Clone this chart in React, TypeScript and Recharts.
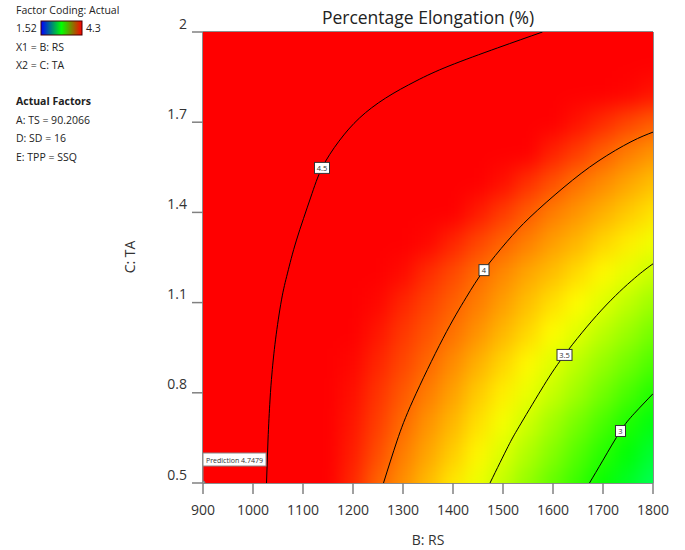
import React from "react";
import { ComposedChart, Scatter, XAxis, YAxis, ReferenceArea } from "recharts";

const W = 685;
const H = 550;
const MARGIN = { top: 32, right: 32, bottom: 0, left: 123 };
const Y_AXIS_W = 80;
const X_AXIS_H = 67;
const PLOT_W = W - MARGIN.left - Y_AXIS_W - MARGIN.right;
const PLOT_H = H - MARGIN.top - MARGIN.bottom - X_AXIS_H;
const FONT = "'Open Sans', 'Noto Sans', sans-serif";

// B: RS grid columns and C: TA grid rows of the response surface
const rsGrid = [900, 950, 1000, 1050, 1100, 1150, 1200, 1250, 1300, 1350, 1400, 1450, 1500, 1550, 1600, 1650, 1700, 1750, 1800];
const taGrid = [0.5, 0.6, 0.7, 0.8, 0.9, 1.0, 1.1, 1.2, 1.3, 1.4, 1.5, 1.6, 1.7, 1.8, 1.9, 2.0];

// Percentage elongation, one row per TA level (bottom to top)
const elongation: number[][] = [
  [4.7479, 4.64, 4.54, 4.47, 4.39, 4.32, 4.19, 4.03, 3.91, 3.79, 3.67, 3.56, 3.44, 3.31, 3.18, 3.06, 2.93, 2.81, 2.68],
  [4.76, 4.65, 4.54, 4.47, 4.40, 4.33, 4.22, 4.09, 3.96, 3.85, 3.74, 3.63, 3.51, 3.39, 3.27, 3.14, 3.02, 2.90, 2.77],
  [4.76, 4.66, 4.55, 4.47, 4.40, 4.33, 4.24, 4.13, 4.01, 3.90, 3.80, 3.69, 3.58, 3.47, 3.35, 3.23, 3.11, 2.99, 2.87],
  [4.77, 4.67, 4.56, 4.48, 4.41, 4.34, 4.26, 4.16, 4.06, 3.96, 3.86, 3.75, 3.65, 3.55, 3.45, 3.34, 3.22, 3.11, 3.00],
  [4.78, 4.68, 4.57, 4.48, 4.42, 4.35, 4.28, 4.20, 4.11, 4.02, 3.92, 3.82, 3.72, 3.62, 3.52, 3.42, 3.32, 3.22, 3.12],
  [4.79, 4.69, 4.59, 4.50, 4.43, 4.37, 4.31, 4.24, 4.15, 4.07, 3.99, 3.90, 3.80, 3.71, 3.61, 3.52, 3.42, 3.33, 3.23],
  [4.80, 4.70, 4.60, 4.51, 4.45, 4.40, 4.34, 4.28, 4.20, 4.12, 4.04, 3.96, 3.87, 3.78, 3.69, 3.61, 3.52, 3.43, 3.34],
  [4.81, 4.72, 4.63, 4.53, 4.47, 4.42, 4.38, 4.33, 4.27, 4.18, 4.10, 4.01, 3.93, 3.85, 3.78, 3.70, 3.62, 3.54, 3.46],
  [4.82, 4.73, 4.64, 4.56, 4.49, 4.45, 4.41, 4.37, 4.33, 4.28, 4.20, 4.11, 4.03, 3.95, 3.87, 3.80, 3.72, 3.65, 3.57],
  [4.83, 4.74, 4.66, 4.58, 4.51, 4.47, 4.44, 4.41, 4.37, 4.34, 4.31, 4.23, 4.14, 4.05, 3.96, 3.89, 3.82, 3.75, 3.68],
  [4.84, 4.75, 4.67, 4.60, 4.53, 4.49, 4.46, 4.43, 4.40, 4.37, 4.35, 4.32, 4.26, 4.17, 4.08, 3.99, 3.92, 3.85, 3.78],
  [4.85, 4.77, 4.69, 4.62, 4.56, 4.51, 4.48, 4.46, 4.43, 4.40, 4.38, 4.35, 4.33, 4.30, 4.21, 4.13, 4.04, 3.96, 3.90],
  [4.86, 4.78, 4.71, 4.64, 4.58, 4.53, 4.50, 4.48, 4.45, 4.43, 4.40, 4.38, 4.35, 4.33, 4.30, 4.25, 4.18, 4.11, 4.05],
  [4.87, 4.80, 4.73, 4.66, 4.61, 4.57, 4.54, 4.52, 4.49, 4.47, 4.45, 4.43, 4.41, 4.38, 4.36, 4.34, 4.32, 4.29, 4.25],
  [4.88, 4.81, 4.75, 4.69, 4.64, 4.60, 4.57, 4.55, 4.53, 4.52, 4.51, 4.49, 4.47, 4.45, 4.43, 4.41, 4.39, 4.37, 4.35],
  [4.89, 4.83, 4.77, 4.72, 4.68, 4.64, 4.61, 4.59, 4.57, 4.55, 4.54, 4.53, 4.52, 4.51, 4.49, 4.47, 4.45, 4.43, 4.41],
];

// contour lines as [RS, TA] pairs
const contour45 = [[1027, 0.5], [1030, 0.643], [1034, 0.776], [1038, 0.866], [1045, 0.976], [1057, 1.109], [1069, 1.198], [1087, 1.308], [1115, 1.448], [1138, 1.548], [1172, 1.637], [1213, 1.714], [1265, 1.78], [1326, 1.837], [1392, 1.887], [1489, 1.947], [1579, 2.0]];
const contour40 = [[1261, 0.5], [1288, 0.64], [1320, 0.775], [1380, 0.981], [1426, 1.116], [1462, 1.208], [1508, 1.303], [1554, 1.384], [1622, 1.484], [1690, 1.57], [1756, 1.635], [1800, 1.667]];
const contour35 = [[1474, 0.5], [1510, 0.621], [1532, 0.687], [1576, 0.809], [1623, 0.926], [1697, 1.075], [1763, 1.181], [1800, 1.229]];
const contour30 = [[1673, 0.5], [1700, 0.576], [1735, 0.673], [1763, 0.732], [1800, 0.797]];

const contourLabels = [
  { rs: 1138, ta: 1.548, text: "4.5" },
  { rs: 1462, ta: 1.208, text: "4" },
  { rs: 1623, ta: 0.926, text: "3.5" },
  { rs: 1735, ta: 0.673, text: "3" },
];

const prediction = [{ rs: 900, ta: 0.5, value: 4.7479 }];

const xTicks = [900, 1000, 1100, 1200, 1300, 1400, 1500, 1600, 1700, 1800];
const yTicks = [0.5, 0.8, 1.1, 1.4, 1.7, 2];

const colorMin = 1.52;
const colorMax = 4.3;

// blue -> cyan -> green -> yellow -> red
const stops = [
  [0, 0, 255],
  [0, 255, 255],
  [0, 255, 0],
  [255, 255, 0],
  [255, 0, 0],
];

function colorFor(v: number) {
  const t = Math.max(0, Math.min(1, (v - colorMin) / (colorMax - colorMin))) * (stops.length - 1);
  const i = Math.min(stops.length - 2, Math.floor(t));
  const f = t - i;
  const a = stops[i];
  const b = stops[i + 1];
  const c = a.map((ch, k) => Math.round(ch + (b[k] - ch) * f));
  return `rgb(${c[0]},${c[1]},${c[2]})`;
}

const cells = taGrid.flatMap((ta, j) =>
  rsGrid.map((rs, i) => ({ rs, ta, i, j, v: elongation[j][i] }))
);

const toPoints = (arr: number[][]) => arr.map(([rs, ta]) => ({ rs, ta }));

const CELL_W = PLOT_W / (rsGrid.length - 1);
const CELL_H = PLOT_H / (taGrid.length - 1);
const EDGE_PAD = 30;

const HeatCell = (props: any) => {
  const { cx, cy, payload } = props;
  const { i, j } = payload;
  let x0 = cx - CELL_W / 2;
  let x1 = cx + CELL_W / 2;
  let y0 = cy - CELL_H / 2;
  let y1 = cy + CELL_H / 2;
  if (i === 0) x0 -= EDGE_PAD;
  if (i === rsGrid.length - 1) x1 += EDGE_PAD;
  if (j === 0) y1 += EDGE_PAD;
  if (j === taGrid.length - 1) y0 -= EDGE_PAD;
  return (
    <rect
      x={x0 - 0.5}
      y={y0 - 0.5}
      width={x1 - x0 + 1}
      height={y1 - y0 + 1}
      fill={colorFor(payload.v)}
    />
  );
};

const NoDot = () => <g />;

const ContourTag = (props: any) => {
  const { cx, cy, payload } = props;
  const w = payload.text.length > 1 ? 15 : 10;
  const h = 11;
  return (
    <g>
      <rect x={cx - w / 2} y={cy - h / 2} width={w} height={h} fill="#fff" stroke="#333" strokeWidth={1} />
      <text x={cx} y={cy + 2.6} textAnchor="middle" fontSize={7.5} fontFamily={FONT} fill="#333">
        {payload.text}
      </text>
    </g>
  );
};

const PredictionFlag = (props: any) => {
  const { cx, cy, payload } = props;
  return (
    <g>
      <line x1={cx} x2={cx} y1={cy} y2={cy - 17} stroke="#888" strokeWidth={1} />
      <circle cx={cx} cy={cy} r={2} fill="#999" stroke="#777" />
      <rect x={cx} y={cy - 30} width={63} height={13} fill="#fff" stroke="#888" strokeWidth={1} />
      <text
        x={cx + 3}
        y={cy - 20.5}
        fontSize={7}
        fontFamily={FONT}
        fill="#333"
        textLength={57}
        lengthAdjust="spacingAndGlyphs"
      >
        {`Prediction  ${payload.value}`}
      </text>
    </g>
  );
};

const XTick = (props: any) => {
  const { x, y, payload } = props;
  return (
    <g>
      <line x1={x} x2={x} y1={y} y2={y + 11} stroke="#808080" strokeWidth={1.5} />
      <text x={x} y={y + 32} textAnchor="middle" fontSize={14} fontFamily={FONT} fill="#333">
        {payload.value}
      </text>
    </g>
  );
};

const YTick = (props: any) => {
  const { x, y, payload } = props;
  return (
    <g>
      <line x1={x - 11} x2={x} y1={y} y2={y} stroke="#808080" strokeWidth={1.5} />
      <text x={x - 16} y={y - 3.5} textAnchor="end" fontSize={14} fontFamily={FONT} fill="#333">
        {payload.value}
      </text>
    </g>
  );
};

const legendRows = [
  { y: 14, text: "Factor Coding: Actual" },
  { y: 51, text: "X1 = B: RS" },
  { y: 69, text: "X2 = C: TA" },
  { y: 105, text: "Actual Factors", bold: true },
  { y: 124, text: "A: TS = 90.2066" },
  { y: 142, text: "D: SD = 16" },
  { y: 161, text: "E: TPP = SSQ" },
];

export default function App() {
  return (
    <div style={{ position: "absolute", left: 0, top: 0, width: W, height: H, background: "#fff" }}>
      <style>{`.heat-field { filter: url(#heatSoft); }`}</style>
      <svg width={0} height={0} style={{ position: "absolute" }}>
        <defs>
          <filter id="heatSoft" x="-10%" y="-10%" width="120%" height="120%" colorInterpolationFilters="sRGB">
            <feGaussianBlur stdDeviation="9 11" />
          </filter>
          <linearGradient id="legendBar" x1="0" x2="1" y1="0" y2="0">
            <stop offset="0" stopColor="#0000ff" />
            <stop offset="0.5" stopColor="#00ff00" />
            <stop offset="1" stopColor="#ff0000" />
          </linearGradient>
        </defs>
      </svg>

      <ComposedChart width={W} height={H} margin={MARGIN}>
        <XAxis
          dataKey="rs"
          type="number"
          domain={[900, 1800]}
          ticks={xTicks}
          allowDataOverflow
          axisLine={false}
          tickLine={false}
          tickSize={0}
          tickMargin={0}
          height={X_AXIS_H}
          tick={<XTick />}
          interval={0}
        />
        <YAxis
          dataKey="ta"
          type="number"
          domain={[0.5, 2]}
          ticks={yTicks}
          allowDataOverflow
          axisLine={false}
          tickLine={false}
          tickSize={0}
          tickMargin={0}
          width={Y_AXIS_W}
          tick={<YTick />}
          interval={0}
        />
        <Scatter
          className="heat-field"
          data={cells}
          shape={<HeatCell />}
          isAnimationActive={false}
        />
        {[contour45, contour40, contour35, contour30].map((c, k) => (
          <Scatter
            key={k}
            data={toPoints(c)}
            line={{ stroke: "#000", strokeWidth: 1 }}
            lineJointType="natural"
            shape={<NoDot />}
            isAnimationActive={false}
          />
        ))}
        <ReferenceArea
          x1={900}
          x2={1800}
          y1={0.5}
          y2={2}
          fill="none"
          fillOpacity={0}
          stroke="#1a1a1a"
          strokeWidth={1}
        />
        <Scatter data={contourLabels} shape={<ContourTag />} isAnimationActive={false} />
        <Scatter data={prediction} shape={<PredictionFlag />} isAnimationActive={false} />
      </ComposedChart>

      <svg width={W} height={H} style={{ position: "absolute", left: 0, top: 0, pointerEvents: "none" }}>
        <text x={428} y={24} textAnchor="middle" fontSize={17.5} fontFamily={FONT} fill="#222">
          Percentage Elongation (%)
        </text>
        <text x={428} y={545} textAnchor="middle" fontSize={14} fontFamily={FONT} fill="#333">
          B: RS
        </text>
        <text
          x={0}
          y={0}
          transform="translate(135 257) rotate(-90)"
          textAnchor="middle"
          fontSize={14}
          fontFamily={FONT}
          fill="#333"
        >
          C: TA
        </text>

        {legendRows.map((r) => (
          <text key={r.text} x={16} y={r.y} fontSize={10.5} fontFamily={FONT} fontWeight={r.bold ? 700 : 400} fill="#222">
            {r.text}
          </text>
        ))}
        <text x={16} y={32} fontSize={10.5} fontFamily={FONT} fill="#222">
          {colorMin}
        </text>
        <rect x={41} y={21} width={41} height={14} fill="url(#legendBar)" stroke="#400" strokeWidth={1} />
        <text x={86} y={32} fontSize={10.5} fontFamily={FONT} fill="#222">
          {colorMax}
        </text>
      </svg>
    </div>
  );
}
